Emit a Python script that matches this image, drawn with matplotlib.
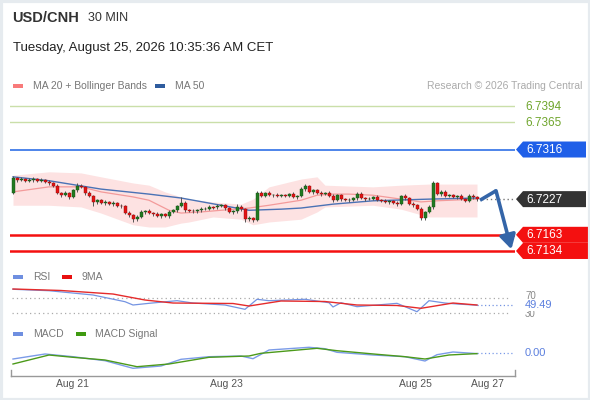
import matplotlib
matplotlib.use("Agg")
import matplotlib.pyplot as plt
from matplotlib.patches import Polygon, Rectangle

plt.rcParams['font.family'] = ['Liberation Sans', 'DejaVu Sans']

# ---------------- data ----------------
first_open = 6.7238
closes = [6.7265, 6.7261, 6.7263, 6.7260, 6.7261, 6.7263, 6.7260, 6.7261, 6.7258, 6.7256,
          6.7251, 6.7238, 6.7234, 6.7238, 6.7231, 6.7243, 6.7251, 6.7249, 6.7238, 6.7233,
          6.7222, 6.7225, 6.7220, 6.7222, 6.7218, 6.7220, 6.7215, 6.7214, 6.7202, 6.7198,
          6.7191, 6.7195, 6.7204, 6.7206, 6.7202, 6.7200, 6.7197, 6.7200, 6.7197, 6.7204,
          6.7207, 6.7215, 6.7220, 6.7207, 6.7206, 6.7205, 6.7207, 6.7209, 6.7210, 6.7213,
          6.7212, 6.7215, 6.7216, 6.7211, 6.7204, 6.7205, 6.7213, 6.7209, 6.7191, 6.7193,
          6.7190, 6.7238, 6.7233, 6.7238, 6.7234, 6.7235, 6.7233, 6.7234, 6.7233, 6.7236,
          6.7231, 6.7233, 6.7245, 6.7251, 6.7240, 6.7243, 6.7238, 6.7236, 6.7238, 6.7233,
          6.7225, 6.7234, 6.7227, 6.7225, 6.7226, 6.7229, 6.7236, 6.7229, 6.7227, 6.7228,
          6.7231, 6.7225, 6.7224, 6.7222, 6.7223, 6.7220, 6.7218, 6.7233, 6.7229, 6.7218,
          6.7216, 6.7209, 6.7193, 6.7204, 6.7213, 6.7256, 6.7236, 6.7240, 6.7233, 6.7234,
          6.7231, 6.7233, 6.7227, 6.7224, 6.7233, 6.7230, 6.7227]
opens = [first_open] + closes[:-1]
# wick lengths in pips (0.0001)
upper_wick = [3, 2, 3, 2, 3, 4, 2, 3, 2, 3, 2, 3, 2, 3, 2, 3, 5, 4, 2, 3,
              2, 3, 2, 3, 2, 3, 2, 3, 2, 3, 2, 3, 3, 2, 3, 2, 4, 2, 3, 3,
              3, 2, 11, 3, 2, 3, 2, 3, 2, 3, 2, 3, 2, 3, 2, 3, 5, 3, 2, 3,
              2, 4, 3, 2, 3, 2, 3, 2, 3, 2, 3, 2, 3, 4, 2, 3, 2, 3, 2, 3,
              3, 2, 3, 2, 3, 2, 4, 3, 2, 3, 2, 3, 2, 3, 2, 3, 3, 2, 3, 2,
              3, 2, 3, 2, 3, 3, 2, 3, 4, 2, 3, 2, 3, 2, 3, 3, 2]
lower_wick = [2, 3, 2, 3, 2, 3, 2, 3, 2, 3, 3, 2, 3, 2, 3, 2, 3, 2, 3, 2,
              8, 3, 2, 3, 2, 3, 2, 3, 2, 3, 5, 3, 2, 3, 2, 3, 2, 3, 2, 3,
              2, 3, 2, 3, 2, 3, 2, 3, 2, 3, 2, 3, 2, 3, 2, 3, 2, 3, 5, 3,
              4, 3, 2, 3, 2, 3, 2, 3, 2, 3, 2, 3, 2, 3, 2, 3, 2, 3, 2, 3,
              3, 2, 3, 2, 3, 2, 3, 2, 3, 2, 3, 2, 3, 2, 3, 2, 3, 2, 3, 2,
              3, 2, 4, 3, 2, 3, 2, 3, 2, 3, 2, 3, 2, 3, 2, 3, 3]

band_idx = [0, 9, 17, 22, 30, 34, 38, 42, 44, 50, 57, 60, 64, 72, 76, 78, 90, 97, 104, 116]
band_upper = [6.7270, 6.7276, 6.7274, 6.7267, 6.7256, 6.7252, 6.7240, 6.7231, 6.7227, 6.7222,
              6.7218, 6.7227, 6.7249, 6.7263, 6.7267, 6.7252, 6.7249, 6.7252, 6.7254, 6.7254]
band_lower = [6.7216, 6.7216, 6.7213, 6.7202, 6.7181, 6.7177, 6.7177, 6.7184, 6.7186, 6.7195,
              6.7191, 6.7181, 6.7186, 6.7191, 6.7204, 6.7213, 6.7216, 6.7209, 6.7195, 6.7195]
ma20_idx = [0, 9, 17, 22, 30, 34, 39, 42, 47, 52, 59, 64, 72, 76, 80, 84, 90, 97, 102, 106, 116]
ma20_val = [6.7240, 6.7249, 6.7249, 6.7240, 6.7231, 6.7225, 6.7207, 6.7202, 6.7204, 6.7207,
            6.7211, 6.7216, 6.7225, 6.7234, 6.7236, 6.7236, 6.7234, 6.7227, 6.7222, 6.7224, 6.7227]
ma50_idx = [0, 9, 22, 34, 42, 52, 59, 67, 72, 80, 90, 104, 116]
ma50_val = [6.7267, 6.7260, 6.7245, 6.7236, 6.7229, 6.7216, 6.7207, 6.7209, 6.7211, 6.7218,
            6.7224, 6.7227, 6.7229]

levels_green = [6.7394, 6.7365]
level_blue = 6.7316
levels_red = [6.7163, 6.7134]
last_price = 6.7227
forecast_idx = [116.75, 120.75, 124.6]
forecast_price = [6.7225, 6.7242, 6.7137]

rsi_idx = [0, 9, 20, 28, 30, 34, 41, 45, 53, 58, 61, 64, 73, 79, 80, 82, 86, 91, 96, 101, 104, 108, 111, 116]
rsi_val = [91.9, 88.1, 76.7, 58.8, 50.0, 54.5, 61.5, 55.3, 50.0, 38.5, 65.2, 61.5, 65.2, 56.1,
           44.7, 56.1, 45.5, 50.0, 54.5, 32.1, 61.5, 55.3, 52.7, 49.49]
ma9_idx = [0, 12, 25, 33, 40, 55, 59, 67, 78, 86, 96, 102, 110, 116]
ma9_val = [92.7, 88.7, 79.3, 63.3, 55.3, 54.0, 47.3, 60.7, 59.3, 50.0, 48.7, 41.2, 55.3, 50.0]
rsi_last = 49.49

macd_idx = [0, 8, 15, 23, 30, 37, 42, 49, 57, 60, 64, 74, 78, 81, 90, 98, 103, 106, 110, 116]
macd_e4 = [-3.0, -0.5, -1.85, -3.85, -7.65, -6.5, -3.15, -1.85, -1.5, -2.85, 1.5, 2.85, 2.15,
           0.35, -1.0, -1.85, -4.0, -0.85, 0.5, -0.3]
signal_idx = [0, 9, 15, 23, 31, 39, 49, 59, 62, 76, 81, 91, 98, 103, 109, 116]
signal_e4 = [-5.5, -1.0, -2.15, -3.5, -6.85, -5.5, -2.15, -1.5, -0.15, 2.35, 1.15, -0.65, -1.85,
             -3.0, -1.0, -0.3]

date_idx = [14.75, 53.25, 100.5, 118.5]
date_labels = ['Aug 21', 'Aug 23', 'Aug 25', 'Aug 27']

# ---------------- figure ----------------
W, H = 590, 400
fig = plt.figure(figsize=(W / 100, H / 100), dpi=100)
fig.patch.set_facecolor('white')


def add_axes_px(x0, y0, x1, y1):
    a = fig.add_axes([x0 / W, 1 - y1 / H, (x1 - x0) / W, (y1 - y0) / H])
    a.set_xlim(-0.75, 125.5)
    a.axis('off')
    return a


GREEN_C = '#217a21'
RED_C = '#e31414'

ax = add_axes_px(10, 100, 515, 258)
ax.set_ylim(6.71214, 6.74048)

ax.fill_between(band_idx, band_lower, band_upper, color='#fde2e2', lw=0, zorder=1)
ax.plot(ma20_idx, ma20_val, color='#f39a9a', lw=0.9, zorder=2)
ax.plot(ma50_idx, ma50_val, color='#4a72b5', lw=1.0, zorder=2)

for lv in levels_green:
    ax.axhline(lv, color='#cadfa9', lw=1.0, zorder=1)
ax.axhline(level_blue, color='#2f6fe6', lw=1.2, zorder=1)
for lv in levels_red:
    ax.axhline(lv, color='#f41010', lw=1.8, zorder=1)

for i, (o, c) in enumerate(zip(opens, closes)):
    col = GREEN_C if c >= o else RED_C
    ec = '#164d16' if c >= o else '#8c0a0a'
    lo_b, hi_b = min(o, c), max(o, c)
    if hi_b - lo_b < 0.00012:
        mid = (hi_b + lo_b) / 2
        lo_b, hi_b = mid - 0.00006, mid + 0.00006
    ax.vlines(i, min(o, c) - lower_wick[i] * 1e-4, max(o, c) + upper_wick[i] * 1e-4,
              color='#555555', lw=0.7, zorder=3)
    ax.bar(i, hi_b - lo_b, bottom=lo_b, width=0.75, color=col, edgecolor=ec, lw=0.3, zorder=4)

ax.plot([117.2, 125.5], [last_price, last_price], ls=(0, (1, 2)), color='#777777', lw=1, zorder=2)

ARROW_C = '#3465a8'
ax.plot(forecast_idx[:2], forecast_price[:2], color=ARROW_C, lw=2.6, solid_capstyle='butt', zorder=6,
        clip_on=False)
ax.annotate('', xy=(forecast_idx[2], forecast_price[2]), xytext=(forecast_idx[1], forecast_price[1]),
            arrowprops=dict(arrowstyle='-|>,head_length=0.7,head_width=0.4', color=ARROW_C, lw=2.6,
                            shrinkA=0, shrinkB=0, mutation_scale=12), zorder=6, annotation_clip=False)

# RSI panel
rax = add_axes_px(10, 284, 515, 325)
rax.set_ylim(-3.3, 106)
for lv in (70, 30):
    rax.plot([-0.25, 124.25], [lv, lv], ls=(0, (1, 2.5)), color='#aaaaaa', lw=0.9)
rax.plot(rsi_idx, rsi_val, color='#7494e2', lw=0.9, zorder=3)
rax.plot(ma9_idx, ma9_val, color='#e52b2b', lw=1.0, zorder=3)
rax.plot([116, 125], [rsi_last, rsi_last], ls=(0, (1, 2)), color='#7494e2', lw=0.9)

# MACD panel
max_ = add_axes_px(10, 340, 515, 372)
max_.set_ylim(-9.5, 6.5)
max_.plot(macd_idx, macd_e4, color='#7b9be8', lw=1.0, zorder=3)
max_.plot(signal_idx, signal_e4, color='#4c9a1a', lw=1.0, zorder=3)
max_.plot([116, 125], [0, 0], ls=(0, (1, 2)), color='#7b9be8', lw=0.9)

# time axis
tax = fig.add_axes([11 / W, 1 - 376 / H, (515 - 11) / W, 6 / H])
tax.set_xlim(-0.5, 125.5)
tax.patch.set_alpha(0)
tax.spines['top'].set_visible(False)
for s in ('bottom', 'left', 'right'):
    tax.spines[s].set_color('#999999')
    tax.spines[s].set_linewidth(1.0)
tax.set_yticks([])
tax.set_xticks(date_idx)
tax.set_xticklabels(date_labels)
tax.tick_params(axis='x', length=0, labelsize=7.5, labelcolor='#555555', pad=2)

# ---------------- overlay (pixel coords) ----------------
ov = fig.add_axes([0, 0, 1, 1])
ov.set_xlim(0, W)
ov.set_ylim(H, 0)
ov.axis('off')
ov.set_zorder(10)


def ypx(a, v):
    return H - a.transData.transform((0, v))[1]


def tag(y, text, fc, tc='white', x1=587):
    h = 8
    poly = Polygon([(516, y), (523, y - h), (x1, y - h), (x1, y + h), (523, y + h)],
                   closed=True, facecolor=fc, edgecolor='none')
    ov.add_patch(poly)
    ov.text(526, y + 0.5, text, color=tc, fontsize=8.5, va='center', ha='left')


for lv in levels_green:
    ov.text(525, ypx(ax, lv) + 0.5, f'{lv:.4f}', color='#6fa52c', fontsize=8.5, va='center')
tag(ypx(ax, level_blue), f'{level_blue:.4f}', '#1f5fe8', x1=586)
tag(ypx(ax, last_price), f'{last_price:.4f}', '#333333', x1=586)
tag(ypx(ax, levels_red[0]), f'{levels_red[0]:.4f}', '#f41010', x1=589)
tag(ypx(ax, levels_red[1]), f'{levels_red[1]:.4f}', '#f41010', x1=589)

ov.text(525, ypx(rax, 70) - 1.5, '70', color='#888888', fontsize=7, va='center')
ov.text(525, ypx(rax, 30) + 1.5, '30', color='#888888', fontsize=7, va='center')
ov.text(525, ypx(rax, rsi_last), f'{rsi_last:.2f}', color='#5b7fde', fontsize=8, va='center',
        bbox=dict(facecolor='white', edgecolor='none', pad=0.2))
ov.text(525, ypx(max_, 0), '0.00', color='#5b7fde', fontsize=8, va='center')

# header
ov.text(12, 18, 'USD/CNH', fontsize=10.5, fontweight='bold', color='#333333', va='center')
ov.text(88, 18, '30 MIN', fontsize=9, color='#333333', va='center')
ov.text(13, 48, 'Tuesday, August 25, 2026 10:35:36 AM CET', fontsize=9.5, color='#222222', va='center')


def legend_item(x, y, col, text, tx):
    ov.add_patch(Rectangle((x, y - 2), 10, 4, facecolor=col, edgecolor='none'))
    ov.text(tx, y, text, fontsize=7.5, color='#777777', va='center')


legend_item(13, 86, '#f87a7a', 'MA 20 + Bollinger Bands', 33)
legend_item(155, 86, '#2f5c9e', 'MA 50', 175)
ov.text(582, 86, 'Research \u00a9 2026 Trading Central', fontsize=7.5, color='#aaaaaa', va='center', ha='right')
legend_item(13, 277, '#6f8fe0', 'RSI', 33)
legend_item(62, 277, '#e81010', '9MA', 82)
legend_item(13, 334, '#6f8fe0', 'MACD', 33)
legend_item(76, 334, '#3f9a10', 'MACD Signal', 95)

ov.add_patch(Rectangle((0.5, 0.5), W - 1, H - 1, facecolor='none', edgecolor='#e6ebef', lw=3))

fig.savefig('out.png', dpi=100, facecolor='white')
